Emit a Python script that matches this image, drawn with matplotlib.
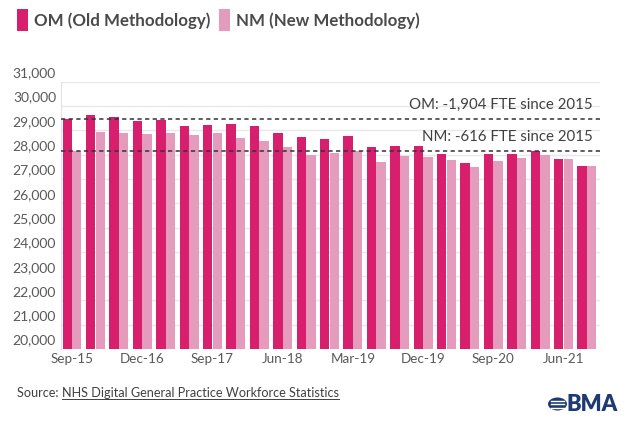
import matplotlib
matplotlib.use("Agg")
import matplotlib.pyplot as plt
import numpy as np
from matplotlib.patches import Rectangle, Circle
from matplotlib.lines import Line2D
from matplotlib.transforms import ScaledTranslation

# GP FTE, fully qualified - old vs new methodology
periods = ["Sep-15", "Mar-16", "Sep-16", "Dec-16", "Mar-17", "Jun-17", "Sep-17",
           "Dec-17", "Mar-18", "Jun-18", "Sep-18", "Dec-18", "Mar-19", "Jun-19",
           "Sep-19", "Dec-19", "Mar-20", "Jun-20", "Sep-20", "Dec-20", "Mar-21",
           "Jun-21", "Sep-21"]
om = [29446, 29612, 29541, 29388, 29430, 29169, 29198, 29240, 29182, 28880,
      28715, 28645, 28756, 28302, 28372, 28372, 28025, 27653, 28025, 28025,
      28165, 27806, 27542]
nm = [28149, 28934, 28880, 28868, 28909, 28826, 28880, 28674, 28562, 28314,
      27971, 28066, 28165, 27694, 27930, 27901, 27764, 27475, 27752, 27860,
      27971, 27806, 27533]
tick_idx = [0, 3, 6, 9, 12, 15, 18, 21]
y_ticks = list(range(20000, 31001, 1000))

om_label = "OM (Old Methodology)"
nm_label = "NM (New Methodology)"
om_note = "OM: -1,904 FTE since 2015"
nm_note = "NM: -616 FTE since 2015"

OM_COL = "#d81f6e"
NM_COL = "#e59bbb"
TXT = "#595959"
W, H = 636, 436

plt.rcParams['font.family'] = ['Lato', 'DejaVu Sans']


def px(x, y):
    # pixel position -> figure fraction
    return x / W, 1 - y / H


fig = plt.figure(figsize=(W / 100, H / 100), dpi=100)
ax = fig.add_axes([60.7 / W, 1 - 349 / H, (600 - 60.7) / W, (349 - 81.7) / H])

x = np.arange(len(periods))
ax.bar(x - 0.205, om, width=0.4, color=OM_COL, zorder=2)
ax.bar(x + 0.205, nm, width=0.4, color=NM_COL, zorder=2)
ax.set_xlim(-0.483, 22.56)
ax.set_ylim(20000, 31000)

ax.set_yticks(y_ticks)
ax.set_yticklabels([])
ax.grid(axis='y', color='#e8e8e8', lw=1, zorder=0)
ax.set_axisbelow(True)
ax.tick_params(length=0)
for s in ['top', 'right', 'bottom']:
    ax.spines[s].set_visible(False)
ax.spines['left'].set_color('#e3e3e3')

ax.set_xticks([x[i] for i in tick_idx], [periods[i] for i in tick_idx])
ax.tick_params(axis='x', labelsize=9.7, labelcolor=TXT, pad=3)

# y labels sit above their gridlines
ylab_tr = ax.get_yaxis_transform() + ScaledTranslation(-4.7 / 100, 8.4 / 100, fig.dpi_scale_trans)
for v in y_ticks:
    ax.text(0, v, f"{v:,}", transform=ylab_tr, ha='right', va='center',
            fontsize=10, color=TXT)

# 2015 reference lines + notes
note_tr = ax.get_yaxis_transform() + ScaledTranslation(0, 14.2 / 100, fig.dpi_scale_trans)
for val, note in [(om[0], om_note), (nm[0], nm_note)]:
    ax.axhline(val, color='#333333', lw=1.1, ls=(0, (2.8, 2.2)), zorder=3)
    ax.text(0.987, val, note, transform=note_tr, ha='right', va='center',
            fontsize=10.8, color='#404040')

# legend
for sx, col, lab, tx in [(17.3, OM_COL, om_label, 34), (219, NM_COL, nm_label, 236)]:
    fig.add_artist(Rectangle(px(sx, 30.7), 11 / W, 21.4 / H, transform=fig.transFigure,
                             color=col, lw=0))
    fig.text(*px(tx, 20.5), lab, ha='left', va='center', fontsize=12.2,
             fontweight='bold', color='#4a4a4a')

# source line with underlined link
src = fig.text(*px(17, 393), "Source: ", ha='left', va='center', fontsize=9.05, color='#404040')
fig.canvas.draw()
bb = src.get_window_extent()
link = fig.text(bb.x1 / W, 1 - 393 / H, "NHS Digital General Practice Workforce Statistics",
                ha='left', va='center', fontsize=9.05, color='#404040')
fig.canvas.draw()
lb = link.get_window_extent()
fig.add_artist(Line2D([lb.x0 / W, lb.x1 / W], [1 - 398.5 / H] * 2, transform=fig.transFigure,
                      color='#404040', lw=0.7))

# BMA mark
NAVY = "#1f3a72"
fig.add_artist(Circle(px(557.5, 404), 9.5 / W, transform=fig.transFigure, color=NAVY, lw=0))
for dy in (-3.5, 0, 3.5):
    fig.add_artist(Line2D([551 / W, 564 / W], [1 - (404 + dy) / H] * 2,
                          transform=fig.transFigure, color='white', lw=1.0))
fig.text(*px(567, 404.5), "BMA", ha='left', va='center', fontsize=15.8,
         fontweight='heavy', color=NAVY)

fig.savefig("out.png", dpi=100)
